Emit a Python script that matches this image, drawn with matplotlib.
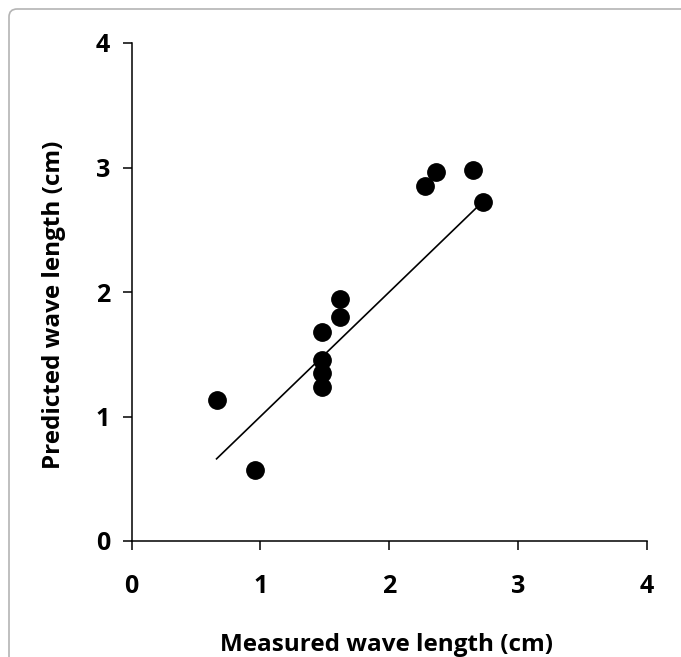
import matplotlib
matplotlib.use("Agg")
import matplotlib.pyplot as plt
from matplotlib.patches import FancyBboxPatch

# measured vs predicted wave length (cm)
measured = [0.66, 0.96, 1.48, 1.48, 1.48, 1.48, 1.62, 1.62, 2.28, 2.36, 2.65, 2.73]
predicted = [1.13, 0.57, 1.68, 1.45, 1.35, 1.24, 1.94, 1.80, 2.85, 2.96, 2.98, 2.72]
fit_x = [0.66, 2.72]
fit_y = [0.66, 2.72]
ticks = [0, 1, 2, 3, 4]

plt.rcParams['font.family'] = ['Open Sans', 'DejaVu Sans']
plt.rcParams['font.weight'] = 'bold'

fig = plt.figure(figsize=(6.81, 6.57), dpi=100)
ax = fig.add_axes([131.5 / 681, 1 - 541 / 657, (647 - 131.5) / 681, (541 - 43) / 657])

ax.plot(fit_x, fit_y, color='black', lw=1.2, zorder=2)
ax.plot(measured, predicted, 'o', color='black', ms=12.5, zorder=3)

ax.set_xlim(0, 4)
ax.set_ylim(0, 4)
ax.set_xticks(ticks)
ax.set_yticks(ticks)
ax.spines['top'].set_visible(False)
ax.spines['right'].set_visible(False)
for s in ('left', 'bottom'):
    ax.spines[s].set_linewidth(1.1)
ax.tick_params(axis='both', direction='out', length=6.5, width=1.1, labelsize=18)
ax.tick_params(axis='x', pad=17)
ax.tick_params(axis='y', pad=9)
for lab in ax.get_xticklabels() + ax.get_yticklabels():
    lab.set_fontweight('bold')

fig.text(387 / 681, 1 - 651 / 657, 'Measured wave length (cm)', ha='center', va='baseline',
         fontsize=17.5, fontweight='bold')
fig.text(60 / 681, 1 - 305 / 657, 'Predicted wave length (cm)', ha='center', va='baseline',
         rotation=90, rotation_mode='anchor', fontsize=17.5, fontweight='bold')

# light grey rounded frame running off the right and bottom edges
frame = FancyBboxPatch((9 / 681, -0.05), 1.1, 1.05 - 9 / 657,
                       boxstyle='round,pad=0,rounding_size=0.012',
                       transform=fig.transFigure, fill=False,
                       edgecolor='#b4b4b4', lw=1.2)
fig.patches.append(frame)

fig.savefig('out.png', dpi=100)
